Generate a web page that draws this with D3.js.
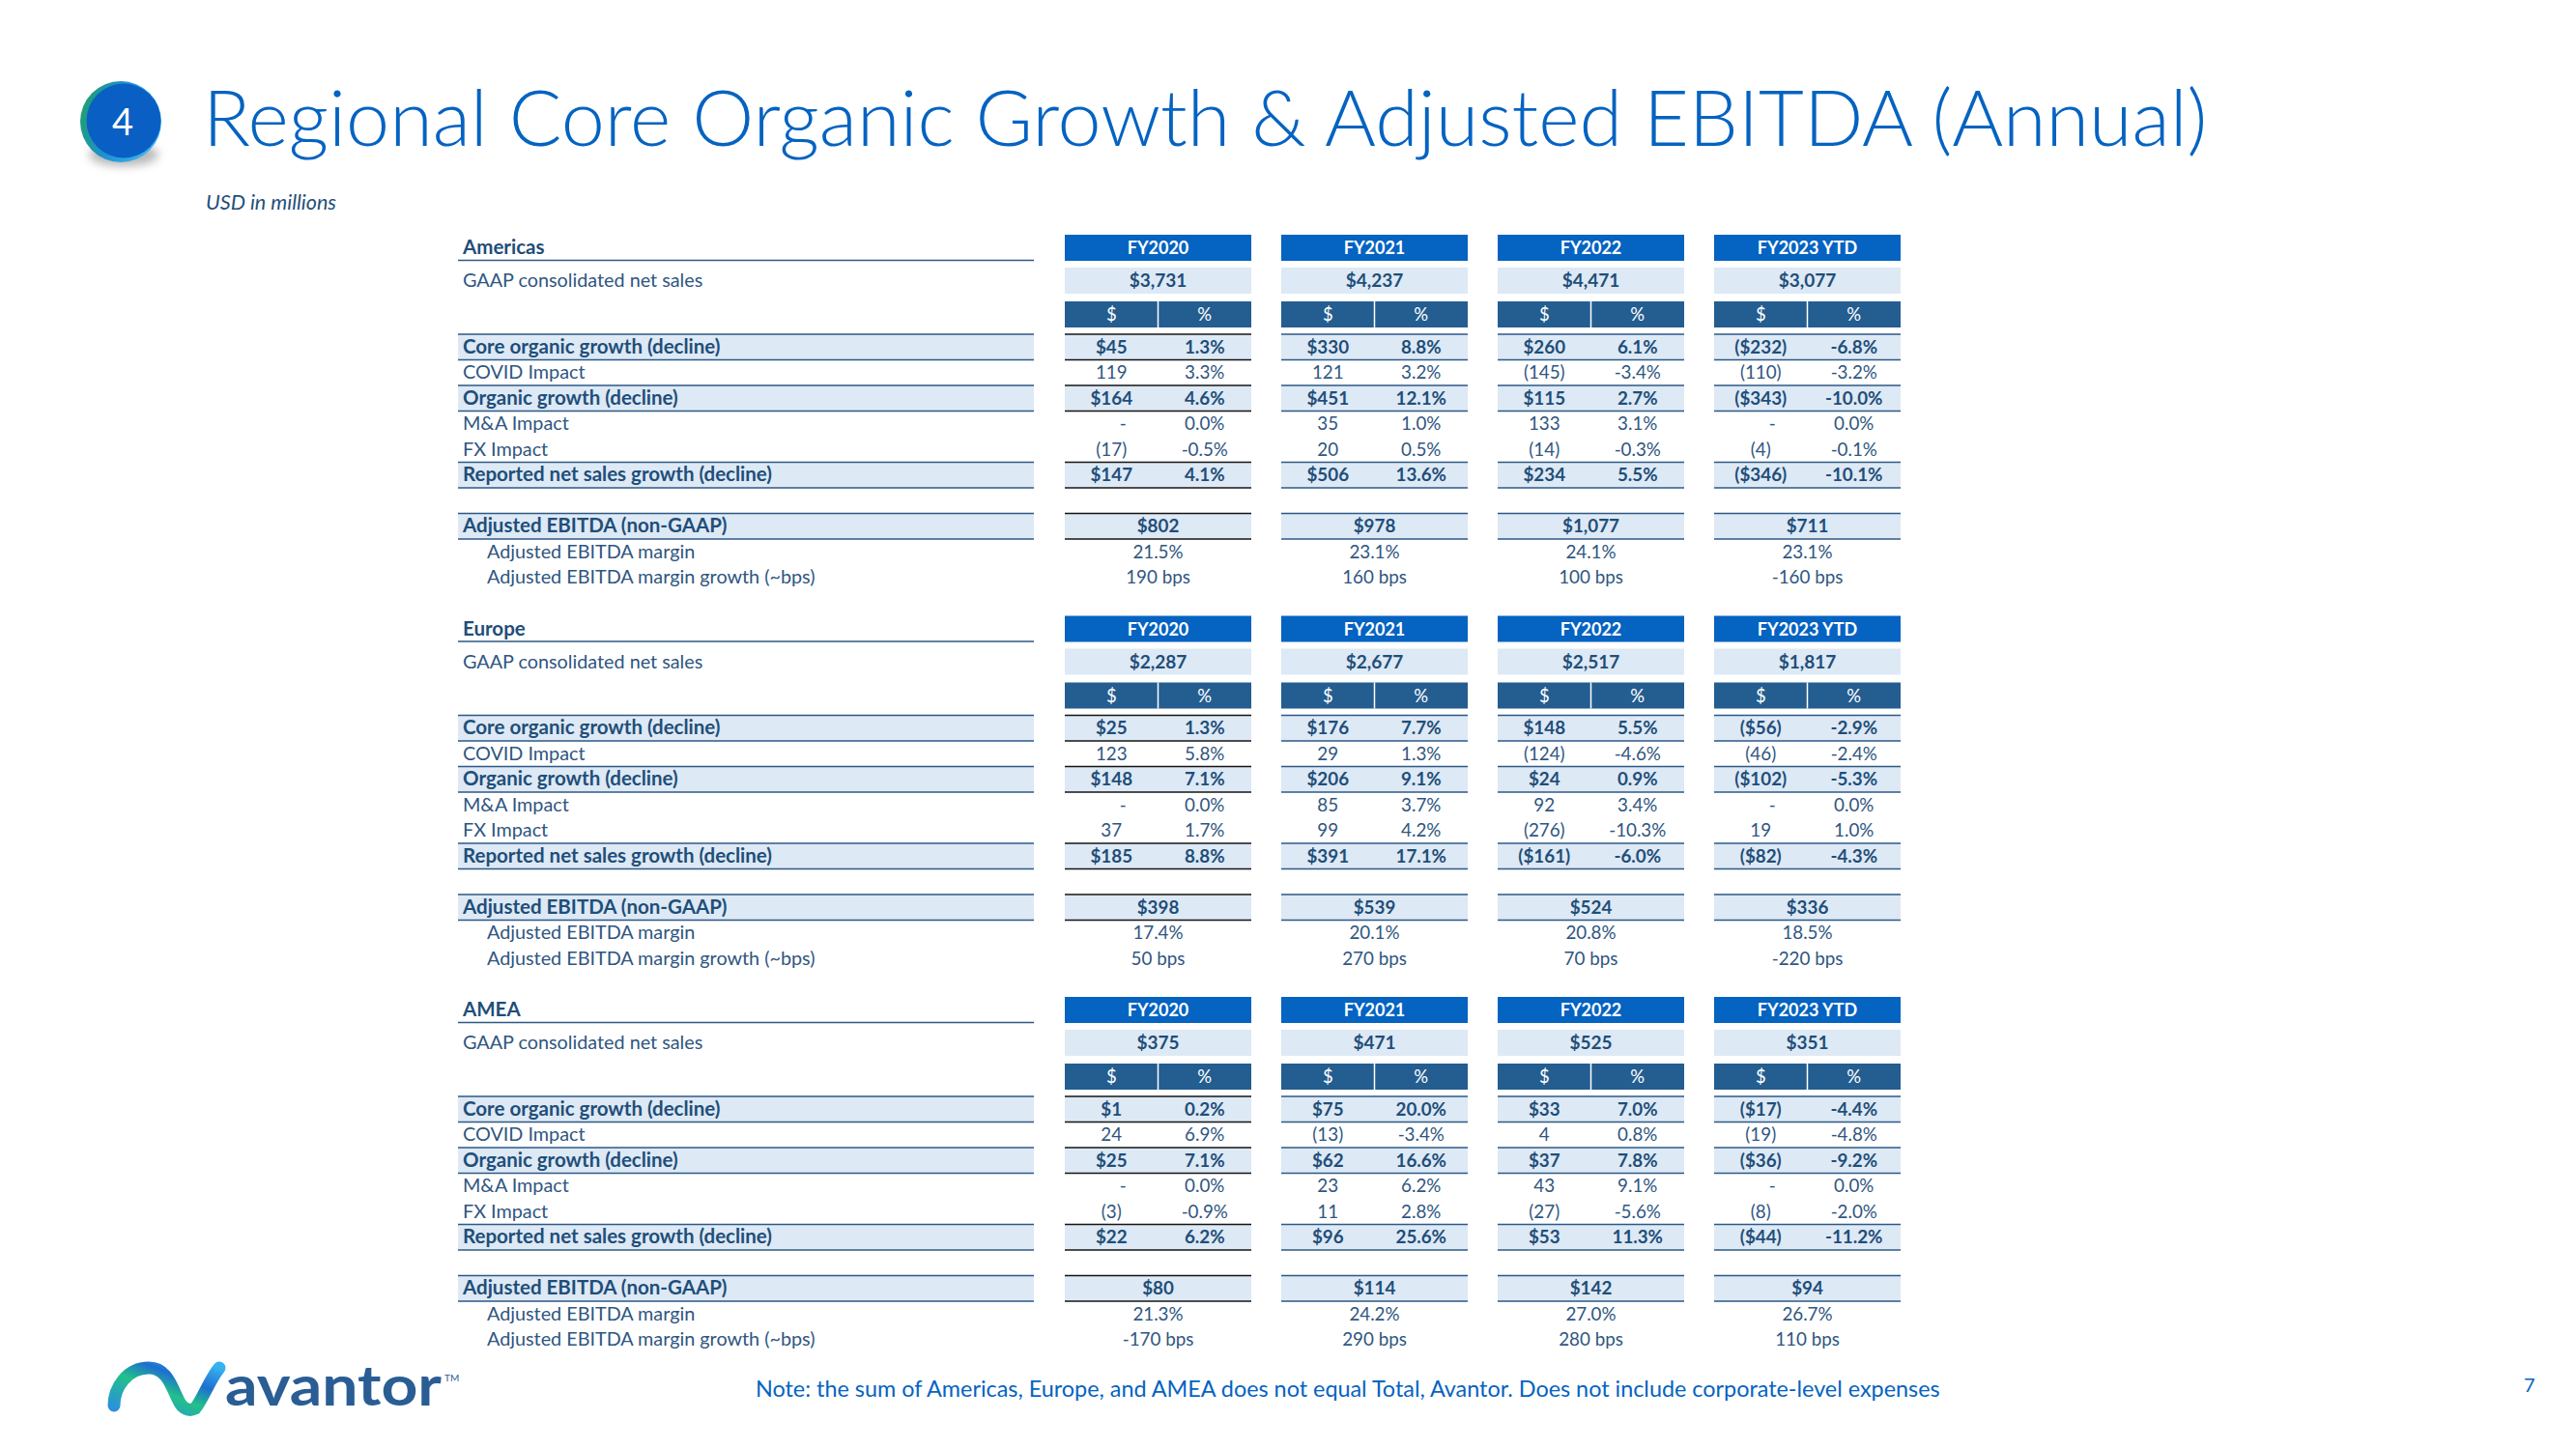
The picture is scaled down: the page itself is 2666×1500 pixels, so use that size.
<!DOCTYPE html>
<html><head><meta charset="utf-8">
<script src="https://cdn.jsdelivr.net/npm/d3@7"></script>
<style>body{margin:0;background:#fff}svg{display:block}</style>
</head><body>
<svg id="c" width="2666" height="1500"></svg>
<script>
// ---------- DATA ----------
const years = ["FY2020", "FY2021", "FY2022", "FY2023 YTD"];
const regions = ["Americas", "Europe", "AMEA"];
const subHeads = ["$", "%"];
const rowLabels = ["Core organic growth (decline)", "COVID Impact", "Organic growth (decline)", "M&A Impact", "FX Impact", "Reported net sales growth (decline)", "", "Adjusted EBITDA (non-GAAP)", "Adjusted EBITDA margin", "Adjusted EBITDA margin growth (~bps)"];
const netSalesLabel = "GAAP consolidated net sales";

const americasNetSales = ["$3,731", "$4,237", "$4,471", "$3,077"];
const americasCore = [["$45", "1.3%"], ["$330", "8.8%"], ["$260", "6.1%"], ["($232)", "-6.8%"]];
const americasCovid = [["119", "3.3%"], ["121", "3.2%"], ["(145)", "-3.4%"], ["(110)", "-3.2%"]];
const americasOrganic = [["$164", "4.6%"], ["$451", "12.1%"], ["$115", "2.7%"], ["($343)", "-10.0%"]];
const americasMA = [["-", "0.0%"], ["35", "1.0%"], ["133", "3.1%"], ["-", "0.0%"]];
const americasFX = [["(17)", "-0.5%"], ["20", "0.5%"], ["(14)", "-0.3%"], ["(4)", "-0.1%"]];
const americasReported = [["$147", "4.1%"], ["$506", "13.6%"], ["$234", "5.5%"], ["($346)", "-10.1%"]];
const americasEbitda = ["$802", "$978", "$1,077", "$711"];
const americasMargin = ["21.5%", "23.1%", "24.1%", "23.1%"];
const americasMarginGrowth = ["190 bps", "160 bps", "100 bps", "-160 bps"];

const europeNetSales = ["$2,287", "$2,677", "$2,517", "$1,817"];
const europeCore = [["$25", "1.3%"], ["$176", "7.7%"], ["$148", "5.5%"], ["($56)", "-2.9%"]];
const europeCovid = [["123", "5.8%"], ["29", "1.3%"], ["(124)", "-4.6%"], ["(46)", "-2.4%"]];
const europeOrganic = [["$148", "7.1%"], ["$206", "9.1%"], ["$24", "0.9%"], ["($102)", "-5.3%"]];
const europeMA = [["-", "0.0%"], ["85", "3.7%"], ["92", "3.4%"], ["-", "0.0%"]];
const europeFX = [["37", "1.7%"], ["99", "4.2%"], ["(276)", "-10.3%"], ["19", "1.0%"]];
const europeReported = [["$185", "8.8%"], ["$391", "17.1%"], ["($161)", "-6.0%"], ["($82)", "-4.3%"]];
const europeEbitda = ["$398", "$539", "$524", "$336"];
const europeMargin = ["17.4%", "20.1%", "20.8%", "18.5%"];
const europeMarginGrowth = ["50 bps", "270 bps", "70 bps", "-220 bps"];

const ameaNetSales = ["$375", "$471", "$525", "$351"];
const ameaCore = [["$1", "0.2%"], ["$75", "20.0%"], ["$33", "7.0%"], ["($17)", "-4.4%"]];
const ameaCovid = [["24", "6.9%"], ["(13)", "-3.4%"], ["4", "0.8%"], ["(19)", "-4.8%"]];
const ameaOrganic = [["$25", "7.1%"], ["$62", "16.6%"], ["$37", "7.8%"], ["($36)", "-9.2%"]];
const ameaMA = [["-", "0.0%"], ["23", "6.2%"], ["43", "9.1%"], ["-", "0.0%"]];
const ameaFX = [["(3)", "-0.9%"], ["11", "2.8%"], ["(27)", "-5.6%"], ["(8)", "-2.0%"]];
const ameaReported = [["$22", "6.2%"], ["$96", "25.6%"], ["$53", "11.3%"], ["($44)", "-11.2%"]];
const ameaEbitda = ["$80", "$114", "$142", "$94"];
const ameaMargin = ["21.3%", "24.2%", "27.0%", "26.7%"];
const ameaMarginGrowth = ["-170 bps", "290 bps", "280 bps", "110 bps"];

const titleText = "Regional Core Organic Growth & Adjusted EBITDA (Annual)";
const unitText = "USD in millions";
const noteText = "Note: the sum of Americas, Europe, and AMEA does not equal Total, Avantor. Does not include corporate-level expenses";

// ---------- STYLE ----------
const FONT = "Lato, 'Open Sans', sans-serif";
const C_BLUE = "#0563c1", C_DARK = "#245d90", C_LIGHT = "#dde9f5", C_NAVY = "#1f4e79", C_REG = "#2f5681", C_LINE = "#2d5986";
const boldRows = [true, false, true, false, false, true, false, true, false, false];
const indentRows = [false, false, false, false, false, false, false, false, true, true];
const LBL_REG = 19.8, LBL_BOLD = 20.5, VAL = 18.8;

const tables = [
  {pairs: [americasCore, americasCovid, americasOrganic, americasMA, americasFX, americasReported], net: americasNetSales, singles: [americasEbitda, americasMargin, americasMarginGrowth]},
  {pairs: [europeCore, europeCovid, europeOrganic, europeMA, europeFX, europeReported], net: europeNetSales, singles: [europeEbitda, europeMargin, europeMarginGrowth]},
  {pairs: [ameaCore, ameaCovid, ameaOrganic, ameaMA, ameaFX, ameaReported], net: ameaNetSales, singles: [ameaEbitda, ameaMargin, ameaMarginGrowth]}
];

const svg = d3.select("#c");
const defs = svg.append("defs");

// ---------- SCALES ----------
const xYear = d3.scaleBand().domain(years).range([1102, 1967]).paddingInner(31 / 224).paddingOuter(0);
const bw = xYear.bandwidth();
const xSub = d3.scaleBand().domain(subHeads).range([0, bw]);
const ySection = d3.scalePoint().domain(regions).range([0, 789]);
const yRow = d3.scaleLinear().domain([0, 1]).range([346, 372.5]);
const labelX0 = 474, labelX1 = 1070;

// ---------- HEADER ----------
const grad = defs.append("linearGradient").attr("id", "ring").attr("x1", "0").attr("y1", "0").attr("x2", "1").attr("y2", "0.3");
grad.append("stop").attr("offset", "0").attr("stop-color", "#1fa35a");
grad.append("stop").attr("offset", "0.5").attr("stop-color", "#1f8fd0");
grad.append("stop").attr("offset", "1").attr("stop-color", "#3ab4f0");
const blur = defs.append("filter").attr("id", "sh").attr("x", "-50%").attr("y", "-50%").attr("width", "200%").attr("height", "200%");
blur.append("feGaussianBlur").attr("stdDeviation", 5);

svg.append("ellipse").attr("cx", 128).attr("cy", 160).attr("rx", 36).attr("ry", 12).attr("fill", "#9a9a9a").attr("opacity", 0.7).attr("filter", "url(#sh)");
svg.append("circle").attr("cx", 125).attr("cy", 126).attr("r", 42).attr("fill", "url(#ring)");
svg.append("circle").attr("cx", 128).attr("cy", 125).attr("r", 38.5).attr("fill", "#0a5fc4");
svg.append("text").attr("x", 127).attr("y", 140).attr("text-anchor", "middle").attr("fill", "#fff")
  .attr("font-family", FONT).attr("font-size", 38).text("4");

const title = svg.append("text").attr("x", 210).attr("y", 151).attr("fill", C_BLUE)
  .attr("font-family", FONT).attr("font-weight", 300).attr("font-size", 80).text(titleText);
{
  const w = title.node().getComputedTextLength();
  title.attr("font-size", 80 * 2075 / w);
}
svg.append("text").attr("x", 213).attr("y", 217).attr("fill", C_NAVY).attr("font-style", "italic")
  .attr("font-family", FONT).attr("font-size", 21.5).text(unitText);

// ---------- TABLES ----------
function txt(g, x, y, s, bold, opts = {}) {
  return g.append("text").attr("x", x).attr("y", y).text(s)
    .attr("font-family", FONT).attr("font-size", opts.size || VAL)
    .attr("font-weight", bold ? 700 : 400)
    .attr("fill", opts.fill || (bold ? C_NAVY : C_REG))
    .attr("text-anchor", opts.anchor || "start");
}

regions.forEach((reg, ri) => {
  const g = svg.append("g").attr("transform", `translate(0,${ySection(reg)})`);
  const t = tables[ri];
  // section title + underline
  txt(g, 479, 263, reg, true, {size: LBL_BOLD});
  g.append("line").attr("x1", labelX0).attr("x2", labelX1).attr("y1", 269.5).attr("y2", 269.5).attr("stroke", C_LINE).attr("stroke-width", 1.6);
  txt(g, 479, 297, netSalesLabel, false, {size: LBL_REG});

  years.forEach((yr, yi) => {
    const x = xYear(yr);
    g.append("rect").attr("x", x).attr("y", 243).attr("width", bw).attr("height", 27).attr("fill", C_BLUE);
    txt(g, x + bw / 2, 263, yr, true, {anchor: "middle", fill: "#fff", size: 18});
    g.append("rect").attr("x", x).attr("y", 277).attr("width", bw).attr("height", 27).attr("fill", C_LIGHT);
    txt(g, x + bw / 2, 297, t.net[yi], true, {anchor: "middle", size: 19});
    g.append("rect").attr("x", x).attr("y", 312).attr("width", bw).attr("height", 27).attr("fill", C_DARK);
    g.append("line").attr("x1", x + xSub("%")).attr("x2", x + xSub("%")).attr("y1", 312).attr("y2", 339).attr("stroke", "#fff").attr("stroke-width", 1.5);
    subHeads.forEach(s => txt(g, x + xSub(s) + xSub.bandwidth() / 2, 332, s, false, {anchor: "middle", fill: "#fff", size: 18.5}));
  });

  rowLabels.forEach((lab, i) => {
    if (!lab) return;
    const y0 = yRow(i), y1 = yRow(i + 1), h = y1 - y0;
    if (boldRows[i]) {
      g.append("rect").attr("x", labelX0).attr("y", y0).attr("width", labelX1 - labelX0).attr("height", h).attr("fill", C_LIGHT);
      [y0, y1].forEach(yy => g.append("line").attr("x1", labelX0).attr("x2", labelX1).attr("y1", yy).attr("y2", yy).attr("stroke", C_LINE).attr("stroke-width", 1.6));
    }
    txt(g, indentRows[i] ? 504 : 479, y0 + 19.8, lab, boldRows[i], {size: boldRows[i] ? LBL_BOLD : LBL_REG});
    years.forEach((yr, yi) => {
      const x = xYear(yr);
      if (boldRows[i]) {
        g.append("rect").attr("x", x).attr("y", y0).attr("width", bw).attr("height", h).attr("fill", C_LIGHT);
        const lc = yi === 0 ? "#141414" : C_LINE;
        [y0, y1].forEach(yy => g.append("line").attr("x1", x).attr("x2", x + bw).attr("y1", yy).attr("y2", yy).attr("stroke", lc).attr("stroke-width", 1.6));
      }
      if (i < 6) {
        const pair = t.pairs[i][yi];
        subHeads.forEach((s, si) => {
          const v = pair[si];
          const cx = x + xSub(s) + xSub.bandwidth() / 2 + (v === "-" ? 12 : 0);
          txt(g, cx, y0 + 19.8, v, boldRows[i], {anchor: "middle"});
        });
      } else {
        txt(g, x + bw / 2, y0 + 19.8, t.singles[i - 7][yi], boldRows[i], {anchor: "middle"});
      }
    });
  });
});

// ---------- FOOTER ----------
const note = svg.append("text").attr("x", 782).attr("y", 1446).attr("fill", C_BLUE)
  .attr("font-family", FONT).attr("font-size", 20).text(noteText);
{
  const w = note.node().getComputedTextLength();
  note.attr("font-size", 20 * 1226 / w);
}
svg.append("text").attr("x", 2612).attr("y", 1441).attr("fill", C_BLUE)
  .attr("font-family", FONT).attr("font-size", 20).text("7");

// logo swoosh
const lg = defs.append("linearGradient").attr("id", "logo").attr("x1", "0").attr("y1", "1").attr("x2", "1").attr("y2", "0");
lg.append("stop").attr("offset", "0").attr("stop-color", "#2a8fe0");
lg.append("stop").attr("offset", "0.45").attr("stop-color", "#22c08a");
lg.append("stop").attr("offset", "0.7").attr("stop-color", "#1e6fd0");
lg.append("stop").attr("offset", "1").attr("stop-color", "#35b2ef");
svg.append("path")
  .attr("d", "M118,1455 C118,1436 132,1416 154,1416 C174,1416 178,1438 186,1452 C190,1459 196,1461 202,1458 C210,1448 217,1428 227,1416")
  .attr("fill", "none").attr("stroke", "url(#logo)").attr("stroke-width", 13).attr("stroke-linecap", "round");
svg.append("text").attr("x", 233).attr("y", 1455).attr("fill", "#2a5d94")
  .attr("font-family", FONT).attr("font-weight", 700).attr("font-size", 58)
  .attr("textLength", 224).attr("lengthAdjust", "spacingAndGlyphs").text("avantor");
svg.append("text").attr("x", 460).attr("y", 1430).attr("fill", "#2a5d94")
  .attr("font-family", FONT).attr("font-size", 10).text("TM");
</script>
</body></html>
